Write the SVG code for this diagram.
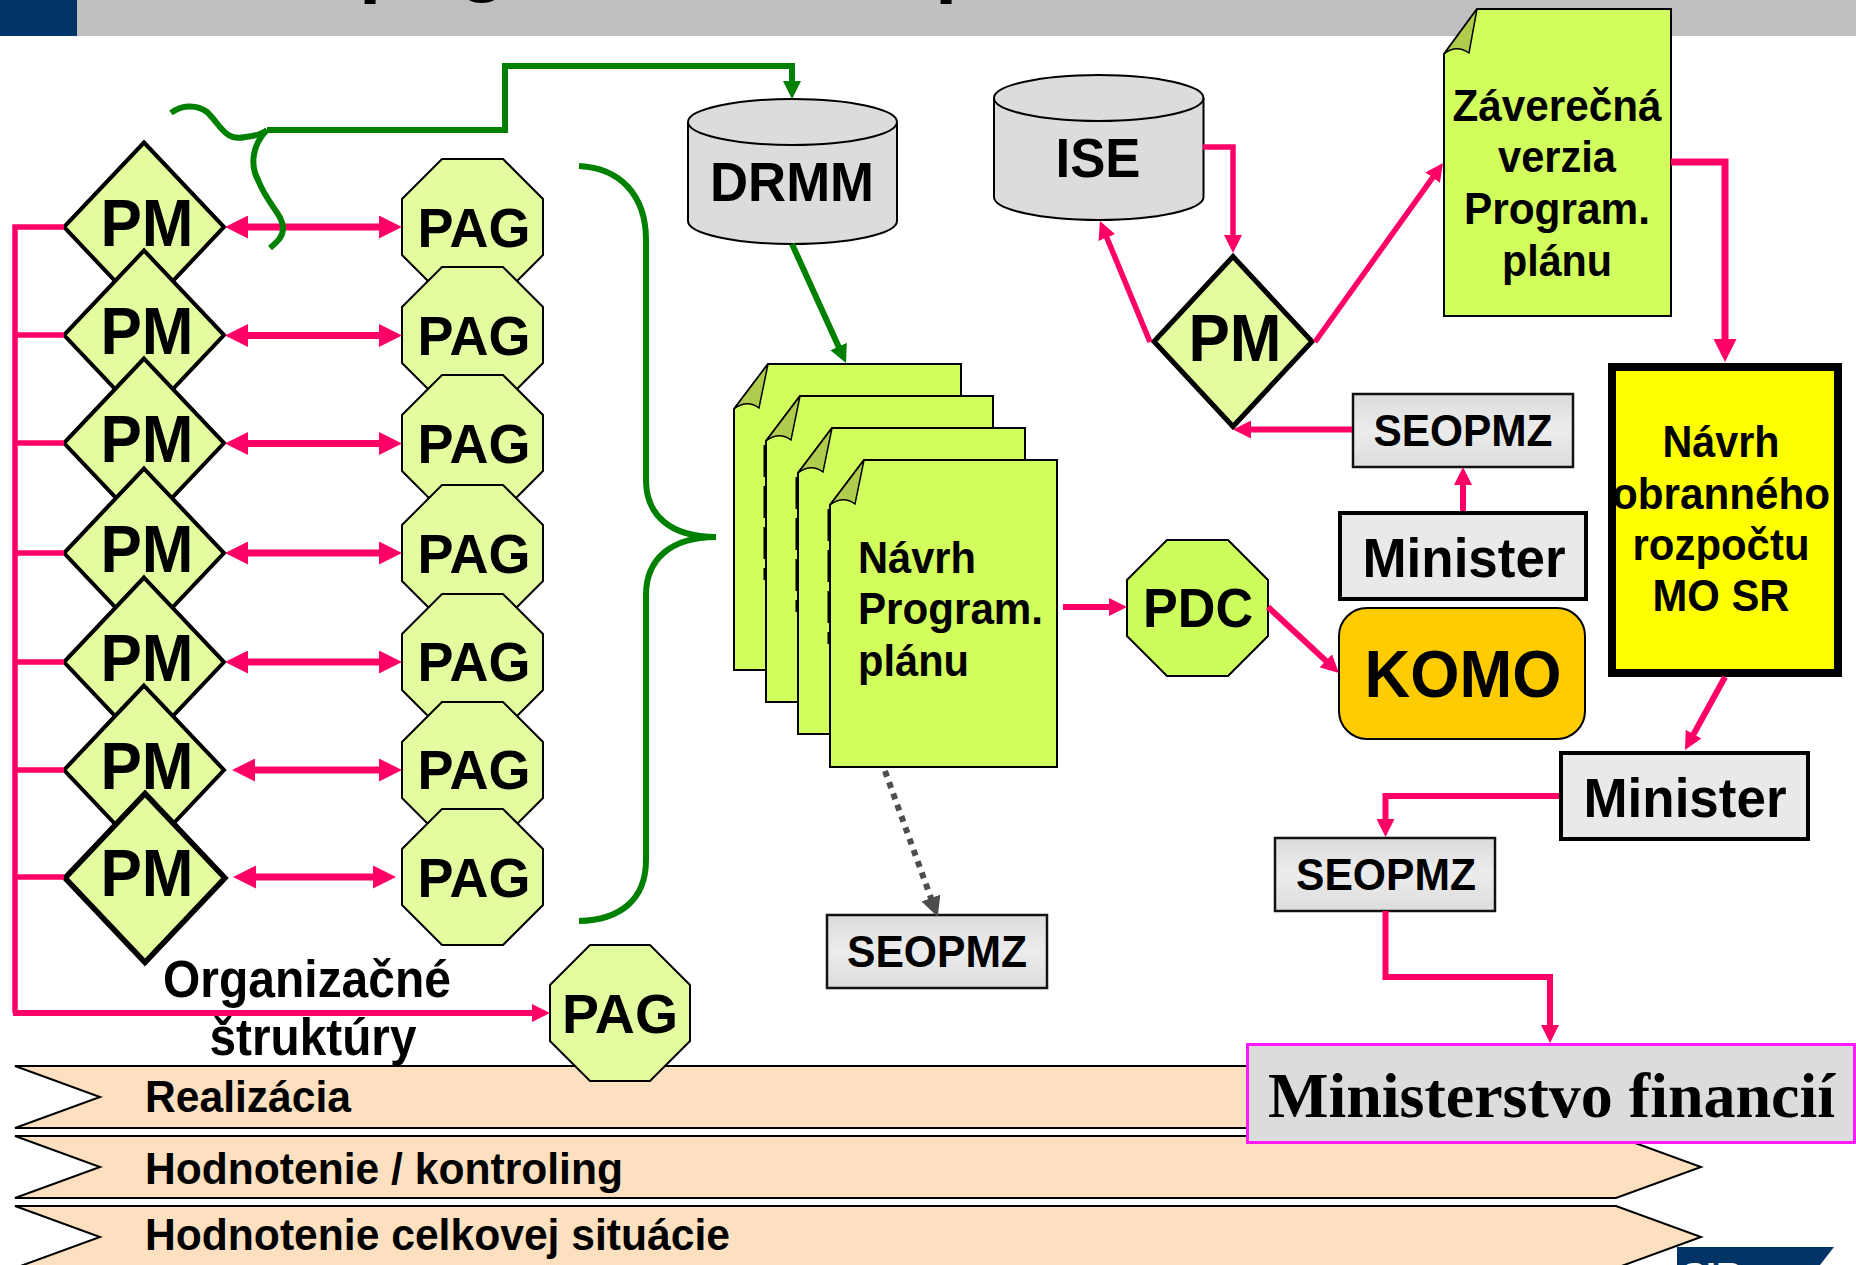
<svg xmlns="http://www.w3.org/2000/svg" width="1856" height="1265" viewBox="0 0 1856 1265">
<style>
text{font-family:"Liberation Sans",Arial,sans-serif;font-weight:700;fill:#000}
.mid{text-anchor:middle}
.pm{fill:#e3fca0;stroke:#000;stroke-width:4;stroke-linejoin:miter}
.pag{fill:#e3fca0;stroke:#000;stroke-width:2}
.t66{font-size:66px}.t56{font-size:56px}.t45{font-size:45px}
.doc{fill:#d1fd5d;stroke:#000;stroke-width:2}
.fold{fill:#b0cc4c;stroke:#000;stroke-width:1.5}
.dash{fill:none;stroke:#000;stroke-width:3;stroke-dasharray:32 9}
.cyl{fill:#dcdcdc;stroke:#000;stroke-width:2}
.sq{fill:url(#g);stroke:#111;stroke-width:2.5}
.min{fill:#e9e9e9;stroke:#000;stroke-width:4}
.band{fill:#fde0c0;stroke:#000;stroke-width:2}
.p{fill:none;stroke:#ff0066;stroke-linejoin:miter}
.s5{stroke-width:5.5}.s6{stroke-width:6}.s7{stroke-width:7}
.gr{fill:none;stroke:#008000;stroke-width:6}
</style>
<defs>
<linearGradient id="g" x1="0" y1="0" x2="0" y2="1"><stop offset="0" stop-color="#dcdcdc"/><stop offset=".5" stop-color="#ececec"/><stop offset="1" stop-color="#dcdcdc"/></linearGradient>
<marker id="pL" markerUnits="userSpaceOnUse" markerWidth="23" markerHeight="23" refX="11" refY="11.5" orient="auto-start-reverse"><path d="M0,0L23,11.5L0,23Z" fill="#ff0066"/></marker>
<marker id="pM" markerUnits="userSpaceOnUse" markerWidth="18" markerHeight="18" refX="9" refY="9" orient="auto-start-reverse"><path d="M0,0L18,9L0,18Z" fill="#ff0066"/></marker>
<marker id="gM" markerUnits="userSpaceOnUse" markerWidth="18" markerHeight="18" refX="9" refY="9" orient="auto"><path d="M0,0L18,9L0,18Z" fill="#008000"/></marker>
<marker id="kM" markerUnits="userSpaceOnUse" markerWidth="20" markerHeight="20" refX="9" refY="10" orient="auto"><path d="M0,0L20,10L0,20Z" fill="#4d4d4d"/></marker>
</defs>

<g id="header">
<rect x="0" y="0" width="77" height="36" fill="#003366"/>
<rect x="77" y="0" width="1779" height="36" fill="#bfbfbf"/>
<text x="359" y="-12.800" font-size="80">p</text>
<text x="458" y="-14" font-size="80">g</text>
<text x="935" y="-12.800" font-size="80">p</text>
</g>
<g id="logo">
<path d="M1677,1247H1834L1820,1265H1677Z" fill="#003366"/>
<text x="1682" y="1289" font-size="36" style="fill:#fff">SIR</text>
</g>

<g id="band-realizacia"><path class="band" d="M15,1066H1616L1701,1097L1616,1128H15L100,1097Z"/><text x="145" y="1111.500" class="t45" textLength="206" lengthAdjust="spacingAndGlyphs">Realizácia</text></g>
<g id="band-hodnotenie"><path class="band" d="M15,1136H1616L1701,1167L1616,1198H15L100,1167Z"/><text x="145" y="1183.500" class="t45" textLength="478" lengthAdjust="spacingAndGlyphs">Hodnotenie / kontroling</text></g>
<g id="band-situacia"><path class="band" d="M15,1206H1616L1701,1237L1616,1268H15L100,1237Z"/><text x="145" y="1249.500" class="t45" textLength="585" lengthAdjust="spacingAndGlyphs">Hodnotenie celkovej situácie</text></g>

<g id="pm1"><path class="pm" d="M144,142.500L224,227L144,311.500L64,227Z"/><text x="147" y="246" class="mid t66" textLength="93" lengthAdjust="spacingAndGlyphs">PM</text></g>
<g id="pm2"><path class="pm" d="M144,250.500L224,335L144,419.500L64,335Z"/><text x="147" y="354" class="mid t66" textLength="93" lengthAdjust="spacingAndGlyphs">PM</text></g>
<g id="pm3"><path class="pm" d="M144,358.500L224,443L144,527.500L64,443Z"/><text x="147" y="462" class="mid t66" textLength="93" lengthAdjust="spacingAndGlyphs">PM</text></g>
<g id="pm4"><path class="pm" d="M144,468.500L224,553L144,637.500L64,553Z"/><text x="147" y="572" class="mid t66" textLength="93" lengthAdjust="spacingAndGlyphs">PM</text></g>
<g id="pm5"><path class="pm" d="M144,577.500L224,662L144,746.500L64,662Z"/><text x="147" y="681" class="mid t66" textLength="93" lengthAdjust="spacingAndGlyphs">PM</text></g>
<g id="pm6"><path class="pm" d="M144,685.500L224,770L144,854.500L64,770Z"/><text x="147" y="789" class="mid t66" textLength="93" lengthAdjust="spacingAndGlyphs">PM</text></g>
<g id="pm7"><path class="pm" style="stroke-width:5.500" d="M145,793.500L225,878L145,962.500L65,878Z"/><text x="147" y="896" class="mid t66" textLength="93" lengthAdjust="spacingAndGlyphs">PM</text></g>

<g id="pag1"><path class="pag" d="M442,159H503L543,199V255L503,295H442L402,255V199Z"/><text x="474" y="247" class="mid t56" textLength="113" lengthAdjust="spacingAndGlyphs">PAG</text></g>
<g id="pag2"><path class="pag" d="M442,267H503L543,307V363L503,403H442L402,363V307Z"/><text x="474" y="355" class="mid t56" textLength="113" lengthAdjust="spacingAndGlyphs">PAG</text></g>
<g id="pag3"><path class="pag" d="M442,375H503L543,415V471L503,511H442L402,471V415Z"/><text x="474" y="463" class="mid t56" textLength="113" lengthAdjust="spacingAndGlyphs">PAG</text></g>
<g id="pag4"><path class="pag" d="M442,485H503L543,525V581L503,621H442L402,581V525Z"/><text x="474" y="573" class="mid t56" textLength="113" lengthAdjust="spacingAndGlyphs">PAG</text></g>
<g id="pag5"><path class="pag" d="M442,594H503L543,634V690L503,730H442L402,690V634Z"/><text x="474" y="681" class="mid t56" textLength="113" lengthAdjust="spacingAndGlyphs">PAG</text></g>
<g id="pag6"><path class="pag" d="M442,702H503L543,742V798L503,838H442L402,798V742Z"/><text x="474" y="789" class="mid t56" textLength="113" lengthAdjust="spacingAndGlyphs">PAG</text></g>
<g id="pag7"><path class="pag" d="M442,809H503L543,849V905L503,945H442L402,905V849Z"/><text x="474" y="897" class="mid t56" textLength="113" lengthAdjust="spacingAndGlyphs">PAG</text></g>
<g id="pag8"><path class="pag" d="M590,945H650L690,985V1041L650,1081H590L550,1041V985Z"/><text x="620" y="1033" class="mid t56" textLength="116" lengthAdjust="spacingAndGlyphs">PAG</text></g>

<g id="org-label"><text x="307" y="997" class="mid" font-size="51" textLength="288" lengthAdjust="spacingAndGlyphs">Organizačné</text><text x="313" y="1055" class="mid" font-size="51" textLength="207" lengthAdjust="spacingAndGlyphs">štruktúry</text></g>

<g id="drmm"><path class="cyl" d="M688,122A104.500,23 0 0 1 897,122V221A104.500,23 0 0 1 688,221Z"/><path class="cyl" style="fill:none" d="M688,122A104.500,23 0 0 0 897,122"/><text x="792" y="201" class="mid t56" textLength="164" lengthAdjust="spacingAndGlyphs">DRMM</text></g>
<g id="ise"><path class="cyl" d="M994,98A104.750,23 0 0 1 1203.500,98V197A104.750,23 0 0 1 994,197Z"/><path class="cyl" style="fill:none" d="M994,98A104.750,23 0 0 0 1203.500,98"/><text x="1098" y="177" class="mid t56" textLength="85" lengthAdjust="spacingAndGlyphs">ISE</text></g>

<g id="doc1"><path class="doc" d="M734,409L768,364H961V670H734Z"/><path class="fold" d="M734,409L768,364L759,408Q747,399 734,409Z"/></g>
<g id="doc2"><path class="doc" d="M766,441L800,396H993V702H766Z"/><path class="fold" d="M766,441L800,396L791,440Q779,431 766,441Z"/><path class="dash" d="M765,445V580"/></g>
<g id="doc3"><path class="doc" d="M798,473L832,428H1025V734H798Z"/><path class="fold" d="M798,473L832,428L823,472Q811,463 798,473Z"/><path class="dash" d="M797,477V612"/></g>
<g id="doc4"><path class="doc" d="M830,505L864,460H1057V767H830Z"/><path class="fold" d="M830,505L864,460L855,504Q843,495 830,505Z"/><path class="dash" d="M829,509V644"/><text x="858" y="572.500" class="t45" textLength="118" lengthAdjust="spacingAndGlyphs">Návrh</text><text x="858" y="624" class="t45" textLength="185" lengthAdjust="spacingAndGlyphs">Program.</text><text x="858" y="675.500" class="t45" textLength="111" lengthAdjust="spacingAndGlyphs">plánu</text></g>

<g id="pdc"><path class="pag" style="fill:#cdfc5d" d="M1167,540H1228L1268,580V636L1228,676H1167L1127,636V580Z"/><text x="1198" y="627" class="mid t56" textLength="110" lengthAdjust="spacingAndGlyphs">PDC</text></g>
<g id="komo"><rect x="1339" y="608" width="246" height="131" rx="28" fill="#ffcc00" stroke="#000" stroke-width="2"/><text x="1463" y="697" class="mid" font-size="67" textLength="197" lengthAdjust="spacingAndGlyphs">KOMO</text></g>
<g id="minister1"><rect class="min" x="1340" y="513" width="246" height="86"/><text x="1464" y="576.500" class="mid" font-size="56" textLength="203" lengthAdjust="spacingAndGlyphs">Minister</text></g>
<g id="seopmz1"><rect class="sq" x="1353" y="394" width="220" height="73"/><text x="1463" y="446" class="mid t45" textLength="179" lengthAdjust="spacingAndGlyphs">SEOPMZ</text></g>
<g id="pm-right"><path class="pm" style="stroke-width:5" d="M1233,256.500L1312,341.500L1233,426.500L1154,341.500Z"/><text x="1235" y="361" class="mid t66" textLength="93" lengthAdjust="spacingAndGlyphs">PM</text></g>
<g id="zaverecna"><path class="doc" d="M1444,54L1477,9H1671V316H1444Z"/><path class="fold" d="M1444,54L1477,9L1469,53Q1456,44 1444,54Z"/><text x="1557" y="121" class="mid t45" textLength="209" lengthAdjust="spacingAndGlyphs">Záverečná</text><text x="1557" y="172" class="mid t45" textLength="118" lengthAdjust="spacingAndGlyphs">verzia</text><text x="1557" y="224" class="mid t45" textLength="186" lengthAdjust="spacingAndGlyphs">Program.</text><text x="1557" y="275.500" class="mid t45" textLength="110" lengthAdjust="spacingAndGlyphs">plánu</text></g>
<g id="navrh-rozpoctu"><rect x="1612" y="367" width="226" height="306" fill="#ffff00" stroke="#000" stroke-width="8"/><text x="1721" y="457" class="mid t45" textLength="117" lengthAdjust="spacingAndGlyphs">Návrh</text><text x="1721" y="508.500" class="mid t45" textLength="218" lengthAdjust="spacingAndGlyphs">obranného</text><text x="1721" y="560" class="mid t45" textLength="177" lengthAdjust="spacingAndGlyphs">rozpočtu</text><text x="1721" y="611" class="mid t45" textLength="137" lengthAdjust="spacingAndGlyphs">MO SR</text></g>
<g id="minister2"><rect class="min" x="1561" y="753" width="247" height="86"/><text x="1685" y="816.500" class="mid" font-size="56" textLength="203" lengthAdjust="spacingAndGlyphs">Minister</text></g>
<g id="seopmz2"><rect class="sq" x="1275" y="838" width="220" height="73"/><text x="1386" y="890" class="mid t45" textLength="180" lengthAdjust="spacingAndGlyphs">SEOPMZ</text></g>
<g id="seopmz3"><rect class="sq" x="827" y="915" width="220" height="73"/><text x="937" y="967" class="mid t45" textLength="180" lengthAdjust="spacingAndGlyphs">SEOPMZ</text></g>
<g id="ministerstvo-financii"><rect x="1247.500" y="1044.500" width="607" height="98" fill="#dcdcdc" stroke="#ff19ff" stroke-width="3"/><text x="1268" y="1117" font-size="64" style="font-family:'Liberation Serif','Times New Roman',serif">Ministerstvo financií</text></g>

<g id="connectors">
<path class="p s5" d="M64,227H15V1013"/>
<path class="p s5" d="M15,335H64M15,443H64M15,553H64M15,662H64M15,770H64M15,877H64"/>
<path class="p s6" d="M13,1013H541" marker-end="url(#pM)"/>
<path class="p s7" d="M237,227H390" marker-start="url(#pL)" marker-end="url(#pL)"/>
<path class="p s7" d="M237,335.500H390" marker-start="url(#pL)" marker-end="url(#pL)"/>
<path class="p s7" d="M237,443.500H390" marker-start="url(#pL)" marker-end="url(#pL)"/>
<path class="p s7" d="M237,553H390" marker-start="url(#pL)" marker-end="url(#pL)"/>
<path class="p s7" d="M237,662H390" marker-start="url(#pL)" marker-end="url(#pL)"/>
<path class="p s7" d="M244,770H390" marker-start="url(#pL)" marker-end="url(#pL)"/>
<path class="p s7" d="M245,877H384" marker-start="url(#pL)" marker-end="url(#pL)"/>
<path class="p s6" d="M1063,607H1118" marker-end="url(#pM)"/>
<path class="p s6" d="M1268,607L1332.400,666.900" marker-end="url(#pM)"/>
<path class="p s6" d="M1463,511V476" marker-end="url(#pM)"/>
<path class="p s6" d="M1352,429.500H1242" marker-end="url(#pM)"/>
<path class="p s5" d="M1203,147H1233V244" marker-end="url(#pM)"/>
<path class="p s5" d="M1150,342L1103.400,229.300" marker-end="url(#pM)"/>
<path class="p s5" d="M1315,342L1437.800,170.300" marker-end="url(#pM)"/>
<path class="p s7" d="M1671,162H1725V350" marker-end="url(#pL)"/>
<path class="p s6" d="M1725,677L1689.300,742" marker-end="url(#pM)"/>
<path class="p s6" d="M1559,796H1385.500V828" marker-end="url(#pM)"/>
<path class="p s6" d="M1385.500,911V977H1550V1034" marker-end="url(#pM)"/>
<path fill="none" stroke="#4d4d4d" stroke-width="6" stroke-dasharray="6 6" d="M885,771L934,906.500" marker-end="url(#kM)"/>
<path class="gr" d="M171,113C180,106 195,103 207,112C220,124 225,142 245,137C255,136 262,134 267,130"/>
<path class="gr" d="M267,130C252,145 250,165 258,180C268,205 283,215 283,228C283,237 277,242 270,248"/>
<path class="gr" d="M267,130H505V66H792V90" marker-end="url(#gM)"/>
<path class="gr" d="M792,244L842.300,354.800" marker-end="url(#gM)"/>
<path class="gr" d="M579,166C620,168 646,195 646,240V480C646,515 670,537 716,537C670,537 646,560 646,595V860C646,900 620,920 579,921"/>
</g>
</svg>
